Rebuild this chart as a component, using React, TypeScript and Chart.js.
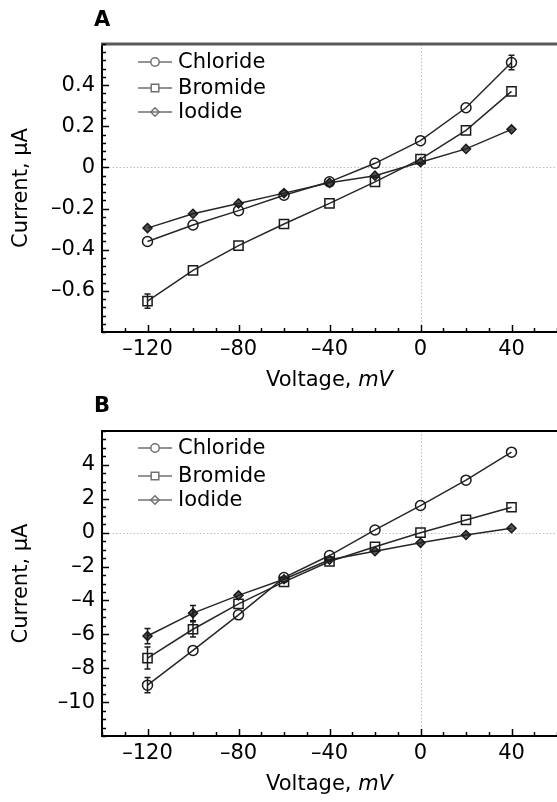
import React, { useEffect, useRef } from 'react';
import { Chart, registerables } from 'chart.js';

Chart.register(...registerables);

// ---------- data ----------
const voltages = [-120, -100, -80, -60, -40, -20, 0, 20, 40];
const seriesNames = ['Chloride', 'Bromide', 'Iodide'];
const markerStyles = ['circle', 'rect', 'rectRot'];

// Panel A (µA)
const chlorideA = [-0.36, -0.28, -0.21, -0.135, -0.07, 0.02, 0.13, 0.29, 0.51];
const bromideA = [-0.65, -0.5, -0.38, -0.275, -0.175, -0.07, 0.04, 0.18, 0.37];
const iodideA = [-0.295, -0.225, -0.175, -0.125, -0.075, -0.04, 0.025, 0.09, 0.185];
const chlorideErrA = [0.012, 0.012, 0.012, 0.01, 0.01, 0.01, 0.012, 0.015, 0.035];
const bromideErrA = [0.035, 0.025, 0.015, 0.012, 0.01, 0.015, 0.015, 0.015, 0.02];
const iodideErrA = [0.01, 0.01, 0.01, 0.01, 0.01, 0.01, 0.01, 0.01, 0.01];

// Panel B (µA)
const chlorideB = [-9.0, -6.95, -4.85, -2.65, -1.35, 0.16, 1.6, 3.1, 4.75];
const bromideB = [-7.4, -5.7, -4.2, -2.9, -1.7, -0.83, 0.0, 0.75, 1.5];
const iodideB = [-6.1, -4.75, -3.7, -2.75, -1.6, -1.1, -0.6, -0.14, 0.26];
const chlorideErrB = [0.45, 0.3, 0.2, 0.15, 0.15, 0.1, 0.1, 0.1, 0.1];
const bromideErrB = [0.65, 0.45, 0.3, 0.2, 0.15, 0.1, 0.1, 0.1, 0.1];
const iodideErrB = [0.45, 0.45, 0.3, 0.2, 0.15, 0.1, 0.1, 0.1, 0.1];

// ticks
const xTickValues = [-120, -80, -40, 0, 40];
const yTicksA = [-0.6, -0.4, -0.2, 0, 0.2, 0.4];
const yTicksB = [-10, -8, -6, -4, -2, 0, 2, 4];

const FONT = "'DejaVu Sans', 'Liberation Sans', Arial, sans-serif";
const FONT_SIZE = 21;

type PanelCfg = {
  label: string;
  data: number[][];
  errs: number[][];
  yMin: number;
  yMax: number;
  yTicks: number[];
  yMinorStep: number;
  height: number;
  top: number;
  bottom: number;
  legendY: number[];
  topBorderColor: string;
  topBorderWidth: number;
  labelY: number;
  xTitleOffset: number;
};

const fmt = (v: number) => {
  const r = Math.round(v * 1000) / 1000;
  return r < 0 ? '\u2013' + String(Math.abs(r)) : String(r);
};

function drawMarker(ctx: CanvasRenderingContext2D, style: string, x: number, y: number, r: number) {
  ctx.beginPath();
  if (style === 'circle') {
    ctx.arc(x, y, r, 0, Math.PI * 2);
  } else if (style === 'rect') {
    ctx.rect(x - r, y - r, 2 * r, 2 * r);
  } else {
    ctx.moveTo(x, y - r);
    ctx.lineTo(x + r, y);
    ctx.lineTo(x, y + r);
    ctx.lineTo(x - r, y);
    ctx.closePath();
  }
}

function makePlugin(cfg: PanelCfg) {
  return {
    id: 'panelDecor',
    beforeDatasetsDraw(chart: any) {
      const { ctx, chartArea } = chart;
      const x = chart.scales.x;
      const y = chart.scales.y;
      ctx.save();
      ctx.strokeStyle = '#bdbdbd';
      ctx.lineWidth = 1;
      ctx.setLineDash([1.5, 2]);
      const x0 = Math.round(x.getPixelForValue(0)) + 0.5;
      const y0 = Math.round(y.getPixelForValue(0)) + 0.5;
      ctx.beginPath();
      ctx.moveTo(x0, chartArea.top);
      ctx.lineTo(x0, chartArea.bottom);
      ctx.moveTo(chartArea.left, y0);
      ctx.lineTo(chartArea.right, y0);
      ctx.stroke();
      ctx.restore();
    },
    afterDatasetsDraw(chart: any) {
      const { ctx } = chart;
      const x = chart.scales.x;
      const y = chart.scales.y;
      ctx.save();
      ctx.strokeStyle = '#1a1a1a';
      ctx.lineWidth = 1.5;
      cfg.errs.forEach((errs, i) => {
        errs.forEach((e, j) => {
          const v = cfg.data[i][j];
          const px = x.getPixelForValue(voltages[j]);
          const yt = y.getPixelForValue(v + e);
          const yb = y.getPixelForValue(v - e);
          if ((yb - yt) / 2 < 6) return;
          ctx.beginPath();
          ctx.moveTo(px, yt);
          ctx.lineTo(px, yb);
          ctx.moveTo(px - 3, yt);
          ctx.lineTo(px + 3, yt);
          ctx.moveTo(px - 3, yb);
          ctx.lineTo(px + 3, yb);
          ctx.stroke();
        });
      });
      ctx.restore();
    },
    afterDraw(chart: any) {
      const { ctx, chartArea } = chart;
      const x = chart.scales.x;
      const y = chart.scales.y;
      ctx.save();
      // top border
      ctx.strokeStyle = cfg.topBorderColor;
      ctx.lineWidth = cfg.topBorderWidth;
      ctx.beginPath();
      ctx.moveTo(chartArea.left - 1, chartArea.top);
      ctx.lineTo(chartArea.right, chartArea.top);
      ctx.stroke();

      // inward ticks on y axis
      ctx.strokeStyle = '#000';
      ctx.lineWidth = 1.5;
      const nY = Math.round((cfg.yMax - cfg.yMin) / cfg.yMinorStep);
      for (let k = 0; k <= nY; k++) {
        const v = cfg.yMin + k * cfg.yMinorStep;
        const py = Math.round(y.getPixelForValue(v)) + 0.5;
        const isMajor = cfg.yTicks.some((t) => Math.abs(t - v) < 1e-6);
        const len = isMajor ? 7 : 4;
        ctx.beginPath();
        ctx.moveTo(chartArea.left, py);
        ctx.lineTo(chartArea.left + len, py);
        ctx.stroke();
      }
      // inward ticks on x axis
      for (let v = -140; v <= 60; v += 10) {
        const px = Math.round(x.getPixelForValue(v)) + 0.5;
        const isMajor = xTickValues.includes(v);
        const len = isMajor ? 7 : 4;
        ctx.beginPath();
        ctx.moveTo(px, chartArea.bottom);
        ctx.lineTo(px, chartArea.bottom - len);
        ctx.stroke();
      }

      // legend
      ctx.font = `${FONT_SIZE}px ${FONT}`;
      ctx.textBaseline = 'middle';
      ctx.textAlign = 'left';
      seriesNames.forEach((name, i) => {
        const ly = cfg.legendY[i];
        ctx.strokeStyle = '#707070';
        ctx.lineWidth = 1.5;
        ctx.beginPath();
        ctx.moveTo(138, ly);
        ctx.lineTo(172, ly);
        ctx.stroke();
        drawMarker(ctx, markerStyles[i], 155, ly, markerStyles[i] === 'rect' ? 3.8 : 4.2);
        ctx.fillStyle = '#fff';
        if (markerStyles[i] !== 'rectRot') ctx.fill();
        ctx.stroke();
        ctx.fillStyle = '#000';
        ctx.fillText(name, 178, ly + 1);
      });

      // panel label
      ctx.font = `bold ${FONT_SIZE}px ${FONT}`;
      ctx.fillStyle = '#000';
      ctx.textAlign = 'left';
      ctx.fillText(cfg.label, 94, cfg.labelY);

      // x title with italic unit
      const xt1 = 'Voltage, ';
      const xt2 = 'mV';
      ctx.font = `${FONT_SIZE}px ${FONT}`;
      const w1 = ctx.measureText(xt1).width;
      ctx.font = `italic ${FONT_SIZE}px ${FONT}`;
      const w2 = ctx.measureText(xt2).width;
      const cx = (chartArea.left + chartArea.right) / 2;
      const ty = chartArea.bottom + cfg.xTitleOffset;
      const sx = cx - (w1 + w2) / 2;
      ctx.font = `${FONT_SIZE}px ${FONT}`;
      ctx.fillText(xt1, sx, ty);
      ctx.font = `italic ${FONT_SIZE}px ${FONT}`;
      ctx.fillText(xt2, sx + w1, ty);

      // y title
      ctx.font = `${FONT_SIZE}px ${FONT}`;
      ctx.translate(22, (chartArea.top + chartArea.bottom) / 2);
      ctx.rotate(-Math.PI / 2);
      ctx.textAlign = 'center';
      ctx.fillText('Current, \u03bcA', 0, 0);
      ctx.restore();
    },
  };
}

function Panel({ cfg }: { cfg: PanelCfg }) {
  const ref = useRef<HTMLCanvasElement | null>(null);
  useEffect(() => {
    if (!ref.current) return;
    const datasets = cfg.data.map((vals, i) => ({
      label: seriesNames[i],
      data: voltages.map((v, j) => ({ x: v, y: vals[j] })),
      borderColor: '#262626',
      borderWidth: 1.5,
      pointStyle: markerStyles[i] as any,
      pointRadius: markerStyles[i] === 'rect' ? 6.5 : markerStyles[i] === 'circle' ? 5 : 4.5,
      pointBorderColor: '#1a1a1a',
      pointBorderWidth: 1.5,
      pointBackgroundColor: markerStyles[i] === 'rectRot' ? 'rgba(30,30,30,0.75)' : 'rgba(0,0,0,0)',
      fill: false,
      tension: 0,
    }));
    const chart = new Chart(ref.current, {
      type: 'line',
      data: { datasets },
      options: {
        responsive: false,
        animation: false,
        devicePixelRatio: 1,
        layout: { autoPadding: false, padding: { top: cfg.top, left: 0, right: 0, bottom: 0 } },
        plugins: { legend: { display: false }, tooltip: { enabled: false }, title: { display: false } },
        scales: {
          x: {
            type: 'linear',
            min: -140,
            max: 60,
            afterBuildTicks: (s: any) => {
              s.ticks = xTickValues.map((v) => ({ value: v }));
            },
            afterFit: (s: any) => {
              s.height = cfg.height - cfg.bottom;
              s.paddingLeft = 0;
              s.paddingRight = 0;
            },
            ticks: {
              callback: (v: any) => fmt(Number(v)),
              font: { family: FONT, size: FONT_SIZE },
              color: '#000',
              padding: 5,
              maxRotation: 0,
              autoSkip: false,
            },
            grid: { display: false, drawTicks: false },
            border: { display: true, color: '#000', width: 2 },
          },
          y: {
            type: 'linear',
            min: cfg.yMin,
            max: cfg.yMax,
            afterBuildTicks: (s: any) => {
              s.ticks = cfg.yTicks.map((v) => ({ value: v }));
            },
            afterFit: (s: any) => {
              s.width = 102;
              s.paddingTop = 0;
              s.paddingBottom = 0;
            },
            ticks: {
              callback: (v: any) => fmt(Number(v)),
              font: { family: FONT, size: FONT_SIZE },
              color: '#000',
              padding: 7,
              autoSkip: false,
            },
            grid: { display: false, drawTicks: false },
            border: { display: true, color: '#000', width: 2 },
          },
        },
      },
      plugins: [makePlugin(cfg) as any],
    });
    return () => chart.destroy();
  }, [cfg]);
  return (
    <canvas
      ref={ref}
      width={557}
      height={cfg.height}
      style={{ display: 'block', width: 557, height: cfg.height }}
    />
  );
}

const panelA: PanelCfg = {
  label: 'A',
  data: [chlorideA, bromideA, iodideA],
  errs: [chlorideErrA, bromideErrA, iodideErrA],
  yMin: -0.8,
  yMax: 0.6,
  yTicks: yTicksA,
  yMinorStep: 0.04,
  height: 395,
  top: 44,
  bottom: 332,
  legendY: [62, 88, 112],
  topBorderColor: '#5a5a5a',
  topBorderWidth: 3,
  labelY: 21,
  xTitleOffset: 49,
};

const panelB: PanelCfg = {
  label: 'B',
  data: [chlorideB, bromideB, iodideB],
  errs: [chlorideErrB, bromideErrB, iodideErrB],
  yMin: -12,
  yMax: 6,
  yTicks: yTicksB,
  yMinorStep: 0.5,
  height: 407,
  top: 36,
  bottom: 341,
  legendY: [53, 81, 105],
  topBorderColor: '#000',
  topBorderWidth: 2,
  labelY: 12,
  xTitleOffset: 49,
};

export default function App() {
  return (
    <div style={{ position: 'absolute', left: 0, top: 0, width: 557, height: 802, background: '#fff' }}>
      <Panel cfg={panelA} />
      <Panel cfg={panelB} />
    </div>
  );
}
